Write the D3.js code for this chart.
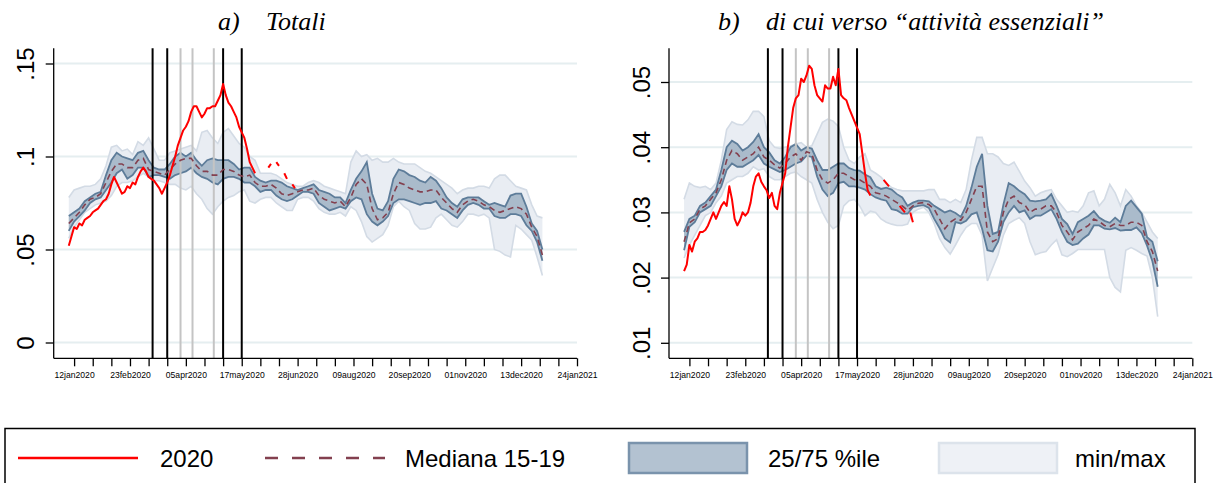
<!DOCTYPE html>
<html>
<head>
<meta charset="utf-8">
<script src="https://cdn.jsdelivr.net/npm/d3@7"></script>
<style>
  body { margin: 0; background: #fff; }
  svg { display: block; }
</style>
</head>
<body>
<svg id="chart" width="1216" height="483"></svg>
<script>
// ---- categories -------------------------------------------------------
// band series sampled every 4 days, 2020 series every 2 days (from 8 Jan 2020)
const seriesStart = new Date(2020, 0, 8);
const bandDates = d3.range(90).map(i => d3.timeDay.offset(seriesStart, 4 * i));
const lineDates = d3.range(87).map(i => d3.timeDay.offset(seriesStart, 2 * i));

const xTickStart = new Date(2020, 0, 12);
const xTickDates = d3.range(28).map(i => d3.timeDay.offset(xTickStart, 14 * i));
const xTickLabels = ["12jan2020", "23feb2020", "05apr2020", "17may2020", "28jun2020",
  "09aug2020", "20sep2020", "01nov2020", "13dec2020", "24jan2021"];

const blackLines = ["2020-03-11", "2020-03-22", "2020-05-03", "2020-05-17"];
const grayLines = ["2020-04-01", "2020-04-10", "2020-04-26"];

// ---- panel a: Totali ---------------------------------------------------
const totYTicks = [0, 0.05, 0.1, 0.15];
const totYLabels = ["0", ".05", ".1", ".15"];

const tot2020 = [.052,.057,.062,.061,.064,.063,.066,.067,.068,.070,
  .071,.072,.074,.076,.077,.080,.085,.089,.086,.083,
  .080,.081,.084,.083,.086,.085,.089,.092,.094,.092,
  .089,.088,.087,.085,.083,.080,.083,.086,.090,.095,
  .100,.106,.110,.114,.116,.119,.124,.127,.127,.124,
  .121,.123,.126,.126,.127,.127,.130,.133,.139,.133,
  .129,.127,.124,.121,.116,.113,.110,.104,.097,.094,
  .091,null,null,null,null,.094,.096,null,.097,.095,
  null,.091,.088,null,.085,.083,null];

const totMedian = [.064,.067,.070,.074,.077,.078,.080,.086,.092,.096,
  .096,.094,.094,.098,.099,.093,.092,.091,.090,.093,
  .096,.098,.099,.099,.095,.092,.092,.090,.090,.093,
  .093,.092,.090,.089,.090,.086,.084,.084,.085,.083,
  .080,.079,.080,.081,.082,.082,.083,.079,.077,.076,
  .075,.076,.073,.078,.085,.088,.085,.072,.066,.067,
  .070,.080,.086,.085,.083,.082,.081,.081,.082,.082,
  .078,.075,.072,.070,.074,.076,.077,.076,.074,.073,
  .071,.070,.071,.072,.073,.072,.069,.062,.057,.047];

const totP25 = [.060,.065,.068,.071,.075,.077,.078,.082,.086,.091,
  .093,.088,.090,.094,.094,.089,.090,.090,.089,.088,
  .090,.091,.092,.094,.091,.089,.088,.086,.085,.088,
  .089,.089,.088,.086,.086,.084,.081,.082,.082,.079,
  .077,.076,.077,.079,.081,.081,.080,.075,.073,.071,
  .072,.073,.072,.076,.078,.077,.069,.065,.063,.065,
  .068,.075,.077,.077,.076,.075,.074,.075,.075,.076,
  .072,.071,.069,.067,.071,.074,.075,.074,.072,.072,
  .068,.067,.067,.069,.069,.068,.063,.060,.054,.044];

const totP75 = [.068,.070,.072,.076,.078,.080,.081,.090,.098,.102,
  .100,.099,.098,.102,.103,.098,.094,.093,.093,.096,
  .100,.102,.100,.102,.098,.095,.098,.099,.098,.098,
  .098,.096,.093,.094,.094,.089,.087,.086,.087,.087,
  .086,.084,.083,.082,.083,.084,.085,.082,.081,.080,
  .078,.078,.075,.082,.088,.092,.097,.080,.072,.071,
  .076,.088,.093,.092,.090,.089,.087,.086,.089,.087,
  .083,.078,.075,.073,.077,.078,.078,.078,.076,.074,
  .075,.074,.073,.079,.080,.080,.073,.064,.060,.050];

const totMin = [.056,.062,.066,.070,.072,.074,.075,.076,.079,.084,
  .086,.086,.087,.089,.091,.089,.087,.087,.086,.085,
  .085,.083,.082,.084,.080,.077,.072,.069,.073,.076,
  .078,.079,.081,.082,.076,.075,.077,.078,.078,.075,
  .073,.071,.071,.077,.078,.078,.076,.072,.070,.069,
  .069,.070,.068,.073,.071,.065,.057,.054,.056,.058,
  .063,.073,.076,.073,.071,.064,.061,.061,.062,.067,
  .069,.066,.063,.062,.065,.069,.069,.068,.069,.067,
  .050,.049,.047,.046,.063,.061,.058,.055,.046,.036];

const totMax = [.078,.082,.083,.084,.084,.085,.088,.095,.105,.106,
  .103,.104,.101,.108,.106,.110,.104,.098,.098,.102,
  .103,.104,.105,.106,.103,.113,.114,.110,.107,.113,
  .115,.111,.107,.105,.100,.098,.091,.091,.091,.090,
  .088,.086,.085,.084,.084,.086,.087,.086,.084,.083,
  .082,.081,.080,.097,.103,.100,.101,.098,.099,.097,
  .097,.099,.097,.096,.096,.096,.094,.092,.091,.089,
  .087,.085,.083,.080,.082,.083,.083,.084,.084,.083,
  .088,.090,.090,.087,.084,.083,.082,.074,.068,.067];

// ---- panel b: di cui verso "attività essenziali" -----------------------
const essYTicks = [0.01, 0.02, 0.03, 0.04, 0.05];
const essYLabels = [".01", ".02", ".03", ".04", ".05"];

const ess2020 = [.021,.022,.025,.024,.0255,.026,.027,.027,.0273,.028,
  .029,.030,.029,.030,.031,.0316,.031,.034,.032,.029,
  .028,.0288,.030,.0295,.030,.0315,.034,.0355,.036,.0347,
  .034,.0334,.0322,.033,.031,.0305,.033,.0345,.036,.040,
  .043,.046,.0475,.048,.0505,.050,.051,.0525,.052,.0495,
  .048,.0475,.047,.0495,.049,.049,.0508,.0495,.052,.048,
  .0475,.0472,.046,.045,.044,.043,.042,.039,.036,.0334,
  .0326,null,null,null,null,.035,.0345,.034,null,null,
  null,.031,.0305,.030,null,.030,.0285];

const essMedian = [.0255,.0284,.029,.0305,.031,.032,.033,.035,.038,.0395,
  .039,.038,.0385,.039,.040,.0385,.038,.0373,.0368,.0375,
  .0385,.039,.038,.0393,.039,.0365,.035,.0345,.035,.036,
  .036,.0355,.035,.035,.0345,.034,.033,.0328,.0325,.032,
  .0315,.031,.0303,.031,.0314,.0315,.0312,.0305,.029,.0275,
  .0285,.029,.0288,.030,.032,.034,.034,.027,.0255,.026,
  .030,.032,.0325,.0315,.0312,.030,.0305,.0305,.031,.031,
  .030,.028,.027,.0258,.027,.0275,.028,.029,.0286,.028,
  .0278,.0283,.028,.028,.0285,.0285,.028,.0255,.024,.021];

const essP25 = [.0242,.0278,.0285,.030,.0305,.031,.0325,.034,.0365,.0375,
  .037,.037,.0375,.038,.0388,.0375,.037,.0366,.0362,.0365,
  .037,.0375,.0378,.0387,.0385,.0355,.0335,.0325,.033,.0345,
  .0347,.034,.034,.0338,.0335,.0328,.0323,.032,.0318,.0305,
  .0303,.0298,.0298,.0308,.031,.0311,.0307,.029,.0276,.026,
  .0254,.0285,.0283,.0287,.0297,.030,.0275,.0242,.024,.0255,
  .0285,.030,.031,.030,.0303,.029,.0295,.0295,.030,.0305,
  .029,.027,.0255,.025,.0252,.026,.0266,.028,.028,.0275,
  .0274,.0276,.0272,.0273,.0273,.0277,.0268,.0249,.0225,.0186];

const essP75 = [.027,.029,.0295,.031,.0315,.0325,.0335,.0365,.040,.041,
  .0405,.0395,.040,.0408,.042,.040,.0392,.038,.0375,.0385,
  .040,.0405,.0395,.040,.0398,.038,.0365,.0365,.037,.0375,
  .0375,.0368,.0365,.0364,.0358,.0354,.034,.0336,.0338,.0335,
  .0328,.0323,.031,.0315,.0318,.0318,.0317,.031,.0305,.030,
  .0303,.0299,.0293,.031,.0338,.037,.039,.031,.0267,.027,
  .0312,.0345,.034,.0333,.0328,.0318,.0317,.0318,.032,.0328,
  .031,.029,.0282,.0267,.0285,.029,.0295,.0302,.0292,.0287,
  .0284,.0292,.0285,.031,.0318,.0308,.0298,.0262,.0255,.0225];

const essMin = [.023,.025,.0265,.028,.0295,.030,.0315,.0325,.0345,.035,
  .0355,.0355,.036,.037,.0365,.0367,.0355,.035,.035,.0355,
  .036,.0362,.0355,.035,.0345,.032,.030,.0285,.0275,.028,
  .031,.0318,.032,.031,.0295,.0302,.030,.029,.0285,.0282,
  .028,.028,.0282,.030,.0305,.0308,.030,.0283,.026,.0246,
  .0236,.025,.0265,.0277,.0283,.0283,.0265,.0195,.0215,.0235,
  .0265,.0283,.0288,.0292,.0283,.0255,.0235,.0238,.024,.025,
  .0258,.0235,.0232,.0237,.0243,.0243,.0243,.0243,.0243,.0243,
  .020,.0185,.0178,.0242,.0246,.0242,.0237,.0233,.020,.014];

const essMax = [.032,.0345,.034,.0338,.034,.0335,.0345,.038,.0427,.0439,
  .0435,.0434,.0442,.0455,.0455,.0447,.041,.040,.0398,.040,
  .0402,.0405,.0407,.040,.0402,.042,.0438,.0443,.044,.0432,
  .040,.038,.0375,.0385,.039,.0365,.036,.0354,.0345,.0338,
  .0335,.0333,.0333,.0333,.0333,.0333,.0335,.0335,.032,.032,
  .0315,.032,.0315,.0335,.038,.0415,.0415,.039,.039,.0385,
  .0375,.0372,.0377,.0363,.0348,.0338,.0325,.033,.0333,.0335,
  .032,.031,.030,.0302,.030,.031,.033,.0333,.031,.032,
  .0343,.033,.031,.0335,.0325,.031,.030,.0285,.027,.026];

// ---- styles ----------------------------------------------------------
const C = {
  red: "#ff0000",
  median: "#83404f",
  iqrFill: "#a3b5c7",
  iqrLine: "#5d7c99",
  rangeFill: "#e9edf3",
  rangeLine: "#d3dbe5",
  grid: "#e5eef0",
  gray: "#c4c4c4"
};
const FONT = "'Liberation Sans', Arial, Helvetica, sans-serif";
const SERIF = "'Liberation Serif', 'Times New Roman', serif";

const svg = d3.select("#chart");

const panels = [
  {
    ox: 0, yDomain: [0, 0.15], yRange: [342.5, 63.5],
    yTicks: totYTicks, yLabels: totYLabels,
    line2020: tot2020, median: totMedian, p25: totP25, p75: totP75, min: totMin, max: totMax,
    tag: "a)", tagX: 218, title: "Totali", titleX: 266
  },
  {
    ox: 615.3, yDomain: [0.01, 0.05], yRange: [342.8, 82.0],
    yTicks: essYTicks, yLabels: essYLabels,
    line2020: ess2020, median: essMedian, p25: essP25, p75: essP75, min: essMin, max: essMax,
    tag: "b)", tagX: 718, title: "di cui verso \u201Cattivit\u00E0 essenziali\u201D", titleX: 766
  }
];

const plotTop = 48.3, plotBottom = 358.3;

panels.forEach(p => {
  const axisX = 53.7 + p.ox, plotRight = 577 + p.ox;
  const x = d3.scaleTime()
    .domain([new Date(2020, 0, 12), new Date(2021, 0, 24)])
    .range([74.1 + p.ox, 577 + p.ox]);
  const y = d3.scaleLinear().domain(p.yDomain).range(p.yRange);
  const g = svg.append("g");

  // horizontal grid
  g.append("g").selectAll("line").data(p.yTicks).join("line")
    .attr("x1", axisX).attr("x2", plotRight)
    .attr("y1", d => y(d)).attr("y2", d => y(d))
    .attr("stroke", C.grid).attr("stroke-width", 2);

  const bands = bandDates.map((d, i) => ({
    date: d, med: p.median[i], lo: p.p25[i], hi: p.p75[i], mn: p.min[i], mx: p.max[i]
  }));

  // min/max band
  g.append("path").datum(bands)
    .attr("d", d3.area().x(d => x(d.date)).y0(d => y(d.mn)).y1(d => y(d.mx)))
    .attr("fill", C.rangeFill);
  ["mn", "mx"].forEach(k => g.append("path").datum(bands)
    .attr("d", d3.line().x(d => x(d.date)).y(d => y(d[k])))
    .attr("fill", "none").attr("stroke", C.rangeLine).attr("stroke-width", 1.6));

  // interquartile band
  g.append("path").datum(bands)
    .attr("d", d3.area().x(d => x(d.date)).y0(d => y(d.lo)).y1(d => y(d.hi)))
    .attr("fill", C.iqrFill).attr("fill-opacity", 0.9);
  ["lo", "hi"].forEach(k => g.append("path").datum(bands)
    .attr("d", d3.line().x(d => x(d.date)).y(d => y(d[k])))
    .attr("fill", "none").attr("stroke", C.iqrLine).attr("stroke-width", 1.8));

  // event lines
  const parse = d3.timeParse("%Y-%m-%d");
  g.append("g").selectAll("line").data(grayLines).join("line")
    .attr("x1", d => x(parse(d))).attr("x2", d => x(parse(d)))
    .attr("y1", plotTop).attr("y2", plotBottom)
    .attr("stroke", C.gray).attr("stroke-width", 2);
  g.append("g").selectAll("line").data(blackLines).join("line")
    .attr("x1", d => x(parse(d))).attr("x2", d => x(parse(d)))
    .attr("y1", plotTop).attr("y2", plotBottom)
    .attr("stroke", "#000").attr("stroke-width", 2);

  // median 2015-19
  g.append("path").datum(bands)
    .attr("d", d3.line().x(d => x(d.date)).y(d => y(d.med)))
    .attr("fill", "none").attr("stroke", C.median).attr("stroke-width", 1.6)
    .attr("stroke-dasharray", "6,4");

  // 2020
  const pts = lineDates.map((d, i) => ({ date: d, v: p.line2020[i] }));
  g.append("path").datum(pts)
    .attr("d", d3.line().defined(d => d.v != null).x(d => x(d.date)).y(d => y(d.v)))
    .attr("fill", "none").attr("stroke", C.red).attr("stroke-width", 2)
    .attr("stroke-linejoin", "round");

  // y axis
  const yAxis = g.append("g").attr("transform", `translate(${axisX},0)`)
    .call(d3.axisLeft(y).tickValues(p.yTicks).tickSize(8)
      .tickFormat((d, i) => p.yLabels[i]));
  yAxis.select(".domain").remove();
  yAxis.selectAll(".tick line").attr("stroke", "#000").attr("stroke-width", 1.3);
  yAxis.selectAll(".tick text")
    .attr("x", null).attr("dy", null)
    .attr("text-anchor", "middle")
    .attr("transform", "translate(-19.5,0) rotate(-90)")
    .attr("font-family", FONT).attr("font-size", 24).attr("fill", "#000");
  g.append("line").attr("x1", axisX).attr("x2", axisX)
    .attr("y1", plotTop).attr("y2", plotBottom)
    .attr("stroke", "#000").attr("stroke-width", 1.3);

  // x axis
  const xAxis = g.append("g").attr("transform", `translate(0,${plotBottom})`)
    .call(d3.axisBottom(x).tickValues(xTickDates).tickSize(8)
      .tickFormat((d, i) => i % 3 === 0 ? xTickLabels[i / 3] : ""));
  xAxis.select(".domain").remove();
  xAxis.selectAll(".tick line").attr("stroke", "#000").attr("stroke-width", 1.3);
  xAxis.selectAll(".tick text")
    .attr("y", 17).attr("dy", "0.32em")
    .attr("font-family", FONT).attr("font-size", 8.6).attr("fill", "#000");
  g.append("line").attr("x1", axisX).attr("x2", plotRight)
    .attr("y1", plotBottom).attr("y2", plotBottom)
    .attr("stroke", "#000").attr("stroke-width", 1.3);

  // panel title
  g.append("text").attr("x", p.tagX).attr("y", 30).text(p.tag)
    .attr("font-family", SERIF).attr("font-style", "italic").attr("font-size", 26);
  g.append("text").attr("x", p.titleX).attr("y", 30).text(p.title)
    .attr("font-family", SERIF).attr("font-style", "italic").attr("font-size", 26);
});

// ---- legend -----------------------------------------------------------
const legend = svg.append("g");
legend.append("rect").attr("x", 5).attr("y", 428.5).attr("width", 1190).attr("height", 70)
  .attr("fill", "#fff").attr("stroke", "#000").attr("stroke-width", 1.5);
const ly = 458;
legend.append("line").attr("x1", 18).attr("x2", 138).attr("y1", ly).attr("y2", ly)
  .attr("stroke", C.red).attr("stroke-width", 2.5);
legend.append("line").attr("x1", 265).attr("x2", 385).attr("y1", ly).attr("y2", ly)
  .attr("stroke", C.median).attr("stroke-width", 2.5).attr("stroke-dasharray", "13,14");
legend.append("rect").attr("x", 629).attr("y", 443).attr("width", 118).attr("height", 30)
  .attr("fill", "#b3c2d1").attr("stroke", "#7a93ac").attr("stroke-width", 2.5);
legend.append("rect").attr("x", 939).attr("y", 443).attr("width", 118).attr("height", 30)
  .attr("fill", "#eef1f6").attr("stroke", "#dce3eb").attr("stroke-width", 2.5);
const legendTexts = [["2020", 160], ["Mediana 15-19", 405], ["25/75 %ile", 768], ["min/max", 1075]];
legend.selectAll("text.lg").data(legendTexts).join("text").attr("class", "lg")
  .attr("x", d => d[1]).attr("y", ly + 8.5).text(d => d[0])
  .attr("font-family", FONT).attr("font-size", 24).attr("fill", "#000");
</script>
</body>
</html>
